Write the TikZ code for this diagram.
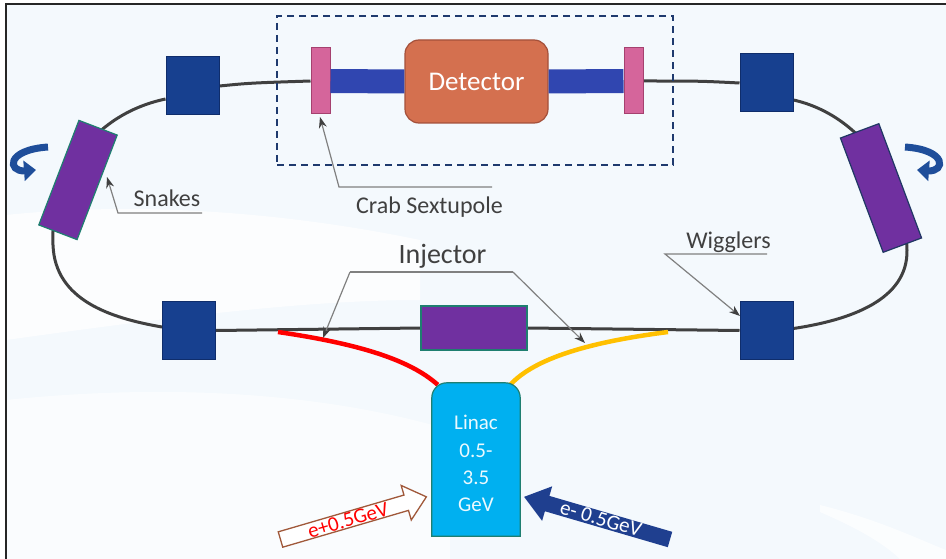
\documentclass[tikz,border=0pt]{standalone}
\usepackage{fontspec}
\setmainfont{Carlito}
\usetikzlibrary{arrows.meta,backgrounds,calc}

\definecolor{bgblue}{HTML}{F4F9FD}
\definecolor{ringgray}{HTML}{404040}
\definecolor{magnet}{HTML}{17408F}
\definecolor{magnetedge}{HTML}{0F2D6B}
\definecolor{snakefill}{HTML}{7030A0}
\definecolor{tealedge}{HTML}{1F7F70}
\definecolor{navyedge}{HTML}{203864}
\definecolor{pipeblue}{HTML}{3046B0}
\definecolor{detfill}{HTML}{D4704F}
\definecolor{detedge}{HTML}{A4503A}
\definecolor{crabfill}{HTML}{D5659B}
\definecolor{crabedge}{HTML}{A5416F}
\definecolor{boxnavy}{HTML}{1F3A6E}
\definecolor{callgray}{HTML}{808080}
\definecolor{labelgray}{HTML}{404040}
\definecolor{linacfill}{HTML}{00B0F0}
\definecolor{posred}{HTML}{FF0000}
\definecolor{eleyellow}{HTML}{FFC000}
\definecolor{arrowbrown}{HTML}{A0583A}
\definecolor{elenavy}{HTML}{1F3F8F}
\definecolor{spinblue}{HTML}{1F4E9A}

\tikzset{
  magnetbox/.style={draw=magnetedge, fill=magnet, line width=1pt,
    minimum width=53pt, minimum height=58pt, inner sep=0pt},
  snakebox/.style={fill=snakefill, line width=1.2pt, minimum width=41pt, inner sep=0pt},
  crabbox/.style={draw=crabedge, fill=crabfill, line width=1pt,
    minimum width=19pt, minimum height=66pt, inner sep=0pt},
  ring/.style={draw=ringgray, line width=3pt},
  pipe/.style={draw=pipeblue, line width=24pt},
  callout/.style={draw=callgray, line width=1.2pt,
    -{Stealth[length=11pt,width=8pt,color=labelgray]}},
  calltext/.style={text=labelgray, font=\fontsize{24}{29}\selectfont, inner sep=0pt},
  spinarrow/.style={draw=spinblue, line width=7pt, -{Triangle[length=12pt,width=20pt]}},
}

\begin{document}
\begin{tikzpicture}[x=1pt, y=-1pt]
\useasboundingbox (0,0) rectangle (946,559);

% page background and frame
\begin{pgfonlayer}{background}
  \fill[white] (0,0) rectangle (946,559);
  \fill[bgblue] (6,4) rectangle (946,559);
  \fill[white, opacity=0.75] (6,215) .. controls (150,200) and (300,215) .. (420,240)
     -- (420,300) .. controls (300,300) and (150,320) .. (6,340) -- cycle;
  \fill[white, opacity=0.6] (6,400) .. controls (200,380) and (350,400) .. (450,430)
     -- (450,559) -- (6,559) -- cycle;
  \fill[white, opacity=0.7] (820,505) .. controls (880,520) and (920,540) .. (946,550)
     -- (946,559) -- (900,559) .. controls (880,540) and (850,525) .. (820,512) -- cycle;
  \draw[black!85, line width=2pt] (6,559) -- (6,4) -- (946,4);
\end{pgfonlayer}

% interaction region
\node[draw=boxnavy, dash pattern=on 7pt off 5pt, line width=1.8pt,
      minimum width=396pt, minimum height=149pt, inner sep=0pt] (irbox) at (475,90.5) {};
\node[crabbox] (crabL) at (320.5,81) {};
\node[crabbox] (crabR) at (633.5,81) {};
\node[draw=detedge, fill=detfill, line width=1.2pt, rounded corners=14pt,
      minimum width=143pt, minimum height=83pt, inner sep=0pt, text=white,
      font=\fontsize{27}{32}\selectfont] (det) at (476.5,81.5) {Detector};
\draw[pipe] (crabL.east) -- (det.west);
\draw[pipe] (det.east) -- (crabR.west);

% bending magnets
\node[magnetbox] (sqUL) at (192.5,86) {};
\node[magnetbox] (sqUR) at (766.5,83) {};
\node[magnetbox] (sqLL) at (189,330.5) {};
\node[magnetbox] (sqLR) at (766.5,330.5) {};

% spin rotators and kicker
\node[snakebox, draw=tealedge, minimum height=112pt, rotate=-21] (snakeL) at (78,180) {};
\node[snakebox, draw=navyedge, minimum height=122pt, rotate=20.5] (snakeR) at (881,188) {};
\node[fill=snakefill, draw=tealedge, line width=1.2pt, minimum width=106pt,
      minimum height=44pt, inner sep=0pt] (kicker) at (474,328) {};

% ring beam line, under the elements
\begin{pgfonlayer}{background}
  \draw[ring] (sqUL.east) .. controls (250,83) .. (crabL.west);
  \draw[ring] (crabR.east) .. controls (700,81) .. (sqUR.west);
  \draw[ring] ($(sqUL.west)+(0,13)$) .. controls (90,115) and (50,180) .. (53,245)
     .. controls (55,300) and (110,318) .. ($(sqLL.west)+(0,-3.5)$);
  \draw[ring] ($(sqUR.east)+(0,17)$) .. controls (860,115) and (905,180) .. (907,250)
     .. controls (908,300) and (850,320) .. ($(sqLR.east)+(0,-2)$);
  \draw[ring] (sqLL.east) -- (kicker.west);
  \draw[ring] (kicker.east) -- (sqLR.west);
\end{pgfonlayer}

% linac and transfer lines
\node[minimum width=88pt, minimum height=153pt, inner sep=0pt] (linac) at (476,459.5) {};
\coordinate (redStart) at (278,332);
\coordinate (yelStart) at (668,332);
\draw[posred, line width=4.5pt] (redStart) .. controls (360,344) and (410,360)
   .. ($(linac.north west)+(6,2)$);
\draw[eleyellow, line width=4.5pt] (yelStart) .. controls (590,342) and (535,358)
   .. ($(linac.north east)+(-10,2)$);
\draw[draw=tealedge, fill=linacfill, line width=1.2pt] (linac.south west)
   [rounded corners=15pt] -- (linac.north west) -- (linac.north east)
   [sharp corners] -- (linac.south east) -- cycle;
\node[text=white!92!linacfill, align=center, inner sep=0pt,
      font=\fontsize{21}{27.2}\selectfont] (linacText) at (476,463.5) {Linac\\0.5-\\3.5\\GeV};

% incoming beams
\begin{scope}[shift={(280.5,539.5)}, rotate=16.3]
  \draw[arrowbrown, fill=white, line width=1.3pt] (0,-8) -- (131,-8) -- (131,-18)
     -- (152,0) -- (131,18) -- (131,8) -- (0,8) -- cycle;
\end{scope}
\begin{scope}[shift={(670,539.5)}, rotate=163.7]
  \fill[elenavy] (0,-8) -- (128,-8) -- (128,-18)
     -- (152,0) -- (128,18) -- (128,8) -- (0,8) -- cycle;
\end{scope}
\node[text=posred, rotate=16.3, inner sep=0pt, font=\fontsize{21}{25}\selectfont]
   (eplus) at (348,520) {e+0.5GeV};
\node[text=white, rotate=-16.3, inner sep=0pt, font=\fontsize{21}{25}\selectfont]
   (eminus) at (601,519) {e- 0.5GeV};

% spin rotation symbols
\draw[spinarrow] (48,147) .. controls (5,150) and (8,172) .. (36,170);
\draw[spinarrow] (905,147) .. controls (948,150) and (945,172) .. (917,170);

% labels and callouts
\node[calltext, anchor=base] (snakesLbl) at (167,207) {Snakes};
\coordinate (snkEnd) at (202,213);
\coordinate (snkElbow) at (118,213);
\coordinate (snkTip) at (107,177);
\draw[callout] (snkEnd) -- (snkElbow) -- (snkTip);

\node[calltext, anchor=base] (crabLbl) at (429.5,214) {Crab Sextupole};
\coordinate (crbEnd) at (492,187);
\coordinate (crbElbow) at (339,187);
\coordinate (crbTip) at (320,117);
\draw[callout] (crbEnd) -- (crbElbow) -- (crbTip);

\node[calltext, anchor=base, font=\fontsize{28}{33}\selectfont] (injLbl) at (442.5,263) {Injector};
\coordinate (injL) at (350,272);
\coordinate (injR) at (513,272);
\coordinate (injTipL) at (323,338);
\coordinate (injTipR) at (585,343);
\draw[draw=callgray, line width=1.2pt] (injL) -- (injR);
\draw[callout] (injL) -- (injTipL);
\draw[callout] (injR) -- (injTipR);

\node[calltext, anchor=base] (wigLbl) at (728.5,248) {Wigglers};
\coordinate (wigEnd) at (767,254);
\coordinate (wigElbow) at (665,254);
\coordinate (wigTip) at (740,316);
\draw[callout] (wigEnd) -- (wigElbow) -- (wigTip);
\end{tikzpicture}
\end{document}
